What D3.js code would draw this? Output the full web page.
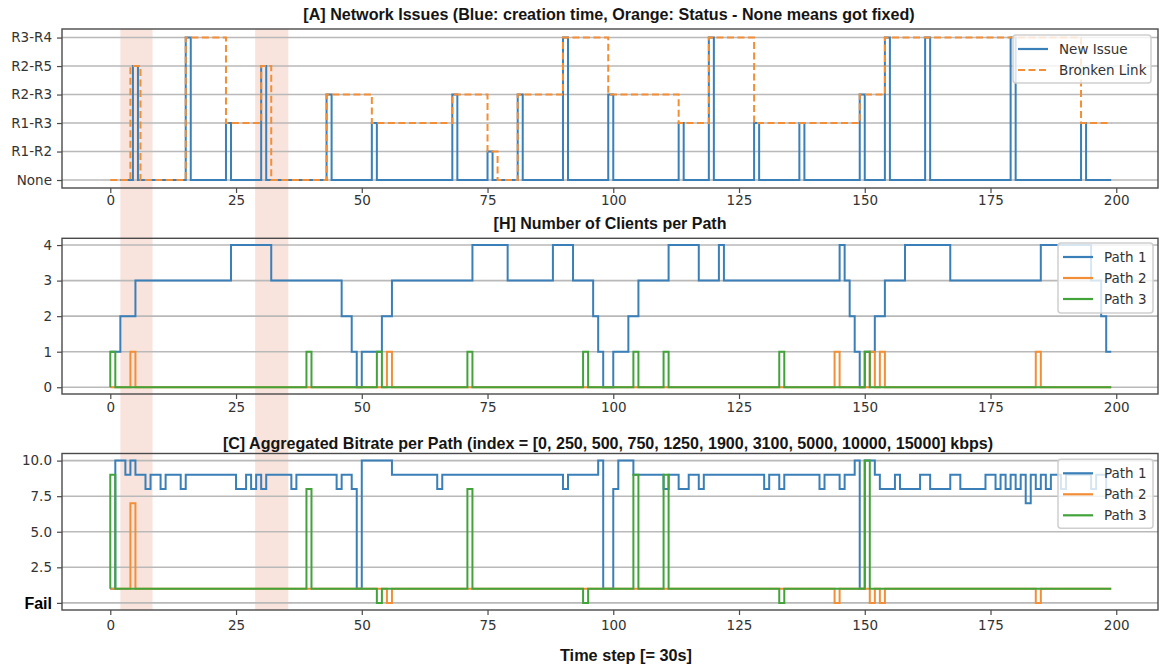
<!DOCTYPE html>
<html>
<head>
<meta charset="utf-8">
<script src="https://cdn.jsdelivr.net/npm/d3@7"></script>
<style>
  body { margin: 0; background: #fff; }
</style>
</head>
<body>
<div class="chart"></div>
<script>
// ---- data ----
var linkNames = ["None", "R1-R2", "R1-R3", "R2-R3", "R2-R5", "R3-R4"]

// [A] blue pulses: time step where a new issue shows up, and on which link
var issueTime  = [4.5, 15, 23, 30, 43, 52, 68, 75, 81, 90, 99, 113, 119, 128, 137, 149, 154, 162, 179, 193]
var issueLevel = [4, 5, 2, 4, 3, 2, 3, 1, 3, 5, 3, 2, 5, 2, 2, 3, 5, 5, 5, 2]
var issueStart = 2, issueEnd = 199

// [A] orange: status of the broken link  [time, link index]
var brokenLink = [[0,0],[4,4],[6,0],[15,5],[23,2],[30,4],[32,0],[43,3],[52,2],[68,3],[75,1],[77,0],[81,3],
  [90,5],[99,3],[113,2],[119,5],[128,2],[149,3],[154,5],[193,2],[199,2]]

// [H] clients per path  [time, clients]
var clientsPath1 = [[0,1],[2,2],[5,3],[24,4],[32,3],[46,2],[48,1],[49,0],[50,1],[54,2],[56,3],[72,4],[79,3],
  [88,4],[92,3],[96,2],[97,1],[98,0],[100,1],[103,2],[105,3],[111,4],[117,3],[121,4],[122,3],[145,4],[146,3],
  [147,2],[148,1],[149,0],[150,1],[152,2],[154,3],[158,4],[167,3],[185,4],[195,3],[197,2],[198,1],[199,1]]
var clientsPath2 = [[0,0],[4,1],[5,0],[55,1],[56,0],[144,1],[145,0],[151,1],[152,0],[153,1],[154,0],
  [184,1],[185,0],[199,0]]
var clientsPath3 = [[0,0],[0,1],[1,0],[39,1],[40,0],[53,1],[54,0],[71,1],[72,0],[94,1],[95,0],[104,1],[105,0],
  [110,1],[111,0],[133,1],[134,0],[150,1],[151,0],[199,0]]

// [C] bitrate index per path  [time, index]  (0 = Fail)
var bitratePath1 = [[0,1],[1,10],[3,9],[4,10],[5,9],[7,8],[8,9],[10,8],[11,9],[14,8],[15,9],[25,8],[27,9],
  [28,8],[29,9],[30,8],[31,9],[36,8],[37,9],[45,8],[46,9],[48,8],[49,1],[50,10],[56,9],[65,8],[66,9],[90,8],
  [91,9],[97,10],[98,1],[100,8],[101,10],[104,9],[110,8],[111,9],[113,8],[115,9],[117,8],[118,9],[130,8],
  [131,9],[133,8],[134,9],[141,8],[142,9],[145,8],[146,9],[148,10],[149,1],[150,10],[152,9],[153,8],[156,9],
  [157,8],[161,9],[163,8],[167,9],[169,8],[174,9],[176,8],[177,9],[178,8],[179,9],[180,8],[181,9],[182,7],
  [183,9],[184,8],[185,9],[186,8],[187,9],[189,8],[190,9],[195,8],[196,9],[198,8],[199,8]]
var bitratePath2 = [[0,1],[4,7],[5,1],[55,0],[56,1],[144,0],[145,1],[151,0],[152,1],[153,0],[154,1],
  [184,0],[185,1],[199,1]]
var bitratePath3 = [[0,1],[0,9],[1,1],[39,8],[40,1],[53,0],[54,1],[71,8],[72,1],[94,0],[95,1],[104,9],[105,1],
  [110,9],[111,1],[133,0],[134,1],[150,10],[151,1],[199,1]]

var xTicks = [0, 25, 50, 75, 100, 125, 150, 175, 200]
var clientTicks = [0, 1, 2, 3, 4]
var bitrateTicks = [0, 2.5, 5, 7.5, 10]
var bitrateTickLabels = ["Fail", "2.5", "5.0", "7.5", "10.0"]
var highlightSpans = [[2, 8.4], [28.8, 35.4]]

var titleA = "[A] Network Issues (Blue: creation time, Orange: Status - None means got fixed)"
var titleH = "[H] Number of Clients per Path"
var titleC = "[C] Aggregated Bitrate per Path (index = [0, 250, 500, 750, 1250, 1900, 3100, 5000, 10000, 15000] kbps)"

// ---- drawing ----
var blue = "#3a7fb8", orange = "#f28e36", green = "#42a33b"
var tickFont = "DejaVu Sans, sans-serif"
var boldFont = "Liberation Sans, Arial, sans-serif"

var svg = d3.select(".chart").append("svg").attr("width", 1162).attr("height", 666)
svg.style("background-color", "#ffffff")

var x = d3.scaleLinear().domain([-9.6, 208.3]).range([62, 1158])

svg.selectAll("rect.span")
  .data(highlightSpans)
  .enter()
  .append("rect")
  .attr("class", "span")
  .attr("x", d => x(d[0]))
  .attr("width", d => x(d[1]) - x(d[0]))
  .attr("y", 29)
  .attr("height", 610 - 29)
  .attr("fill", "#f9e4dd")

function makePanel(top, bottom, yDomain, gridVals) {
  var y = d3.scaleLinear().domain(yDomain).range([bottom, top])
  var g = svg.append("g")
  g.selectAll("line.grid")
    .data(gridVals)
    .enter()
    .append("line")
    .attr("x1", 62).attr("x2", 1158)
    .attr("y1", d => y(d)).attr("y2", d => y(d))
    .attr("stroke", "#b9b9b9")
    .attr("stroke-width", 1.6)
  return {y: y, g: g, top: top, bottom: bottom}
}

function drawStep(p, pts, color, dash) {
  var line = d3.line().x(d => x(d[0])).y(d => p.y(d[1])).curve(d3.curveStepAfter)
  p.g.append("path")
    .attr("d", line(pts))
    .attr("fill", "none")
    .attr("stroke", color)
    .attr("stroke-width", 2)
    .attr("stroke-dasharray", dash || null)
}

function finishPanel(p, yTicks, yFormat, labelPad) {
  p.g.append("rect")
    .attr("x", 62).attr("y", p.top)
    .attr("width", 1158 - 62).attr("height", p.bottom - p.top)
    .attr("fill", "none").attr("stroke", "#4a4a4a").attr("stroke-width", 1.4)

  var ax = p.g.append("g").attr("transform", "translate(0," + p.bottom + ")")
    .call(d3.axisBottom(x).tickValues(xTicks).tickSize(5).tickPadding(labelPad))
  var ay = p.g.append("g").attr("transform", "translate(62,0)")
    .call(d3.axisLeft(p.y).tickValues(yTicks).tickFormat(yFormat).tickSize(5).tickPadding(5))

  ;[ax, ay].forEach(a => {
    a.select(".domain").remove()
    a.selectAll("line").attr("stroke", "#4a4a4a").attr("stroke-width", 1.2)
    a.selectAll("text")
      .style("font-family", tickFont)
      .style("font-size", "13.5px")
      .style("fill", "#333")
  })
  return ay
}

function legend(p, x0, y0, w, h, items) {
  var lg = p.g.append("g")
  lg.append("rect")
    .attr("x", x0).attr("y", y0).attr("width", w).attr("height", h)
    .attr("rx", 3)
    .attr("fill", "#ffffff").attr("fill-opacity", 0.8)
    .attr("stroke", "#cfcfcf").attr("stroke-width", 1.5)
  items.forEach((it, i) => {
    var yc = y0 + 14 + i * 21
    lg.append("line")
      .attr("x1", x0 + 5).attr("x2", x0 + 35)
      .attr("y1", yc).attr("y2", yc)
      .attr("stroke", it.color).attr("stroke-width", 2.2)
      .attr("stroke-dasharray", it.dash || null)
    lg.append("text")
      .attr("x", x0 + 46).attr("y", yc)
      .attr("dominant-baseline", "central")
      .text(it.label)
      .style("font-family", tickFont)
      .style("font-size", "13.5px")
      .style("fill", "#333")
  })
}

// bold title, sized so it spans the same width as in the figure
function title(txt, cx, cy, targetWidth) {
  var t = svg.append("text")
    .attr("x", cx).attr("y", cy)
    .attr("text-anchor", "middle")
    .attr("dominant-baseline", "central")
    .text(txt)
    .style("font-family", boldFont)
    .style("font-weight", "bold")
    .style("font-size", "16px")
    .style("fill", "#151515")
  var len = t.node().getComputedTextLength()
  if (len > 0) t.style("font-size", (16 * targetWidth / len).toFixed(2) + "px")
}

// [A]
var pA = makePanel(29, 188, [-0.28, 5.3], d3.range(linkNames.length))
var issuePts = [[issueStart, 0]]
issueTime.forEach((t, i) => {
  issuePts.push([t, issueLevel[i]])
  issuePts.push([t + 1, 0])
})
issuePts.push([issueEnd, 0])
drawStep(pA, issuePts, blue)
drawStep(pA, brokenLink, orange, "7,3.5")
finishPanel(pA, d3.range(linkNames.length), d => linkNames[d], 2)
legend(pA, 1013, 35, 138, 48, [
  {label: "New Issue", color: blue},
  {label: "Bronken Link", color: orange, dash: "7,3.5"}
])
title(titleA, 609, 14, 612)

// [H]
var pH = makePanel(238.3, 394, [-0.19, 4.19], clientTicks)
drawStep(pH, clientsPath1, blue)
drawStep(pH, clientsPath2, orange)
drawStep(pH, clientsPath3, green)
finishPanel(pH, clientTicks, d3.format("d"), 3)
legend(pH, 1058, 243, 95, 70, [
  {label: "Path 1", color: blue},
  {label: "Path 2", color: orange},
  {label: "Path 3", color: green}
])
title(titleH, 610, 223, 233)

// [C]
var pC = makePanel(453.5, 610, [-0.5, 10.5], bitrateTicks)
drawStep(pC, bitratePath1, blue)
drawStep(pC, bitratePath2, orange)
drawStep(pC, bitratePath3, green)
var ayC = finishPanel(pC, bitrateTicks, (d, i) => bitrateTickLabels[i], 5)
ayC.selectAll("text").filter(d => d === 0)
  .style("font-family", boldFont)
  .style("font-weight", "bold")
  .style("font-size", "16px")
  .style("fill", "#000")
legend(pC, 1058, 459.3, 95, 69, [
  {label: "Path 1", color: blue},
  {label: "Path 2", color: orange},
  {label: "Path 3", color: green}
])
title(titleC, 608, 443, 771)

title("Time step [= 30s]", 626, 655, 132)
</script>
</body>
</html>
